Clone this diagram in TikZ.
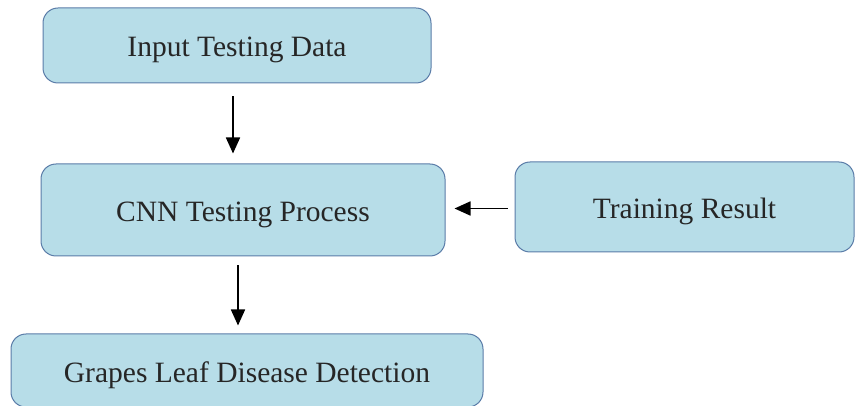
\documentclass[tikz,border=0pt]{standalone}
\usepackage{fontspec}
\setmainfont{Liberation Serif}
\usetikzlibrary{arrows.meta}
\definecolor{boxfill}{HTML}{B7DDE8}
\definecolor{boxline}{HTML}{5A7CA8}
\definecolor{txt}{HTML}{262626}
\tikzset{
  box/.style={draw=boxline, fill=boxfill, line width=1pt, rounded corners=15pt,
    inner sep=0pt, text=txt, text height=23pt, text depth=0pt,
    font=\fontsize{29.5}{34}\selectfont},
  arr/.style={line width=1.8pt, -{Triangle[length=16pt,width=14pt]}}
}
\begin{document}
\begin{tikzpicture}[x=1pt,y=-1pt]
\useasboundingbox (0,0) rectangle (855,406);
\node[box, minimum width=388pt, minimum height=75pt] (n1) at (237,45.5) {Input Testing Data};
\node[box, minimum width=404pt, minimum height=92pt] (n2) at (243,210) {CNN Testing Process};
\node[box, minimum width=339pt, minimum height=90pt] (n3) at (684.5,207) {Training Result};
\node[box, minimum width=472pt, minimum height=73pt] (n4) at (247,370.5) {Grapes Leaf Disease Detection};
\draw[arr] ([xshift=-4pt,yshift=-13pt]n1.south) -- ([xshift=-10pt,yshift=10pt]n2.north);
\draw[arr] ([xshift=-7pt,yshift=-1.5pt]n3.west) -- ([xshift=9pt,yshift=-1.5pt]n2.east |- n3.west);
\draw[arr] ([xshift=-5pt,yshift=-9pt]n2.south) -- ([xshift=-9pt,yshift=8pt]n4.north);
\end{tikzpicture}
\end{document}
